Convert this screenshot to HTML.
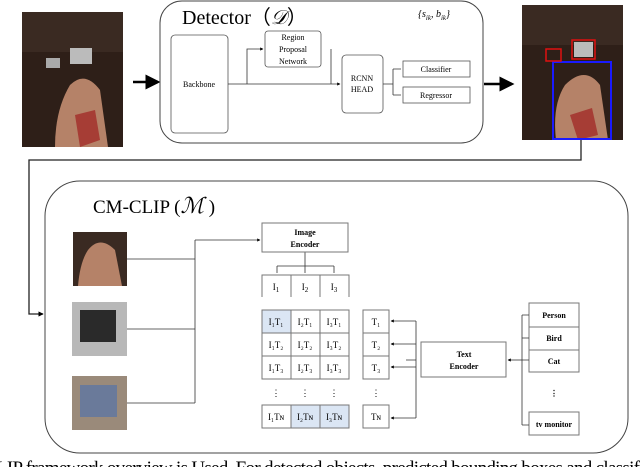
<!DOCTYPE html>
<html><head><style>body{margin:0;background:#fff;overflow:hidden}svg{display:block}</style></head><body>
<svg width="640" height="467" viewBox="0 0 640 467" xmlns="http://www.w3.org/2000/svg" font-family="Liberation Serif, serif">
<defs><marker id="a" markerWidth="6" markerHeight="6" refX="5" refY="3" orient="auto"><path d="M0,0 L6,3 L0,6z" fill="#000"/></marker>
<marker id="b" markerWidth="4" markerHeight="4" refX="3.5" refY="2" orient="auto"><path d="M0,0 L4,2 L0,4z" fill="#000"/></marker></defs>
<!-- left photo -->
<rect x="22" y="12" width="101" height="135" fill="#2e1f18"/>
<rect x="22" y="12" width="101" height="40" fill="#3a2a22"/>
<rect x="70" y="48" width="22" height="16" fill="#bbb"/>
<rect x="46" y="58" width="14" height="10" fill="#aaa"/>
<path d="M70 85 Q85 70 100 90 L108 147 L55 147 Q55 110 70 85z" fill="#b58268"/>
<path d="M75 115 L95 110 L100 140 L80 147z" fill="#a02020" opacity="0.7"/>
<!-- detector -->
<line x1="133" y1="82" x2="158" y2="82" stroke="#000" stroke-width="2.5" marker-end="url(#a)"/>
<rect x="160" y="1" width="323" height="142" rx="22" fill="none" stroke="#444"/>
<text x="182" y="24" font-size="20">Detector（<tspan font-style="italic">𝒟</tspan>）</text>
<text x="418" y="17" font-size="10" font-style="italic">{s<tspan font-size="7" dy="3">ik</tspan><tspan dy="-3">, b</tspan><tspan font-size="7" dy="3">ik</tspan><tspan dy="-3">}</tspan></text>
<g fill="#fff" stroke="#555" stroke-width="0.8">
<rect x="171" y="35" width="57" height="98" rx="4"/>
<rect x="265" y="31" width="56" height="36" rx="3"/>
<rect x="342" y="55" width="41" height="58" rx="4"/>
<rect x="403" y="61" width="67" height="16"/>
<rect x="403" y="87" width="67" height="16"/></g>
<g font-size="8" text-anchor="middle">
<text x="199" y="87">Backbone</text>
<text x="293" y="40">Region</text><text x="293" y="52">Proposal</text><text x="293" y="64">Network</text>
<text x="362" y="81">RCNN</text><text x="362" y="92">HEAD</text>
<text x="436" y="72">Classifier</text><text x="436" y="98">Regressor</text></g>
<g stroke="#333" stroke-width="0.8" fill="none">
<path d="M228 84 H340" marker-end="url(#b)"/><path d="M247 84 V49 H263" marker-end="url(#b)"/>
<path d="M331 49 V84"/><path d="M383 84 H393 M393 69 V95 M393 69 H401 M393 95 H401"/></g>
<line x1="484" y1="84" x2="512" y2="84" stroke="#000" stroke-width="2.5" marker-end="url(#a)"/>
<!-- right photo -->
<rect x="522" y="5" width="101" height="135" fill="#2e1f18"/>
<rect x="522" y="5" width="101" height="40" fill="#3a2a22"/>
<rect x="574" y="42" width="19" height="15" fill="#bbb"/>
<path d="M565 85 Q585 65 600 85 L608 140 L556 140 Q552 105 565 85z" fill="#b58268"/>
<path d="M570 115 L592 108 L598 135 L578 140z" fill="#a02020" opacity="0.7"/>
<rect x="553" y="62" width="58" height="77" fill="none" stroke="#1a1aff" stroke-width="2"/>
<rect x="546" y="49" width="15" height="12" fill="none" stroke="#e01010" stroke-width="1.5"/>
<rect x="572" y="40" width="23" height="19" fill="none" stroke="#e01010" stroke-width="1.5"/>
<path d="M581 140 V160 H29 V314 H43" fill="none" stroke="#222" stroke-width="1.3" marker-end="url(#b)"/>
<!-- CM-CLIP -->
<rect x="45" y="181" width="583" height="272" rx="35" fill="none" stroke="#444"/>
<text x="93" y="213" font-size="19">CM-CLIP (<tspan font-style="italic" font-size="22">ℳ</tspan> )</text>
<rect x="73" y="232" width="54" height="54" fill="#3a2a22"/><path d="M88 250 Q100 235 115 250 L122 286 L78 286 Q80 262 88 250z" fill="#b58268"/>
<rect x="72" y="302" width="55" height="54" fill="#b8b8b8"/><rect x="80" y="310" width="36" height="32" fill="#2a2a2a"/>
<rect x="72" y="376" width="55" height="54" fill="#9a8a7a"/><rect x="80" y="385" width="37" height="32" fill="#6a7a9a"/>
<g stroke="#333" stroke-width="0.8" fill="none">
<path d="M127 259 H195 M127 329 H195 M127 403 H195 M195 240 V403" />
<path d="M305 252 V266 M277 266 H334 M277 266 V273 M305 266 V273 M334 266 V273"/></g>
<path d="M195 240 H260" stroke="#333" stroke-width="0.8" marker-end="url(#b)"/>
<rect x="262" y="223" width="86" height="29" fill="#fff" stroke="#777"/>
<g font-size="8" font-weight="bold" text-anchor="middle"><text x="305" y="235">Image</text><text x="305" y="247">Encoder</text>
<text x="464" y="357">Text</text><text x="464" y="369">Encoder</text>
<text x="554" y="318">Person</text><text x="554" y="341">Bird</text><text x="554" y="364">Cat</text><text x="554" y="396">⋮</text><text x="554" y="427">tv monitor</text></g>
<path d="M262 297 V275 H349 V297 M291 275 V297 M320 275 V297" fill="none" stroke="#777"/>
<g font-size="9" text-anchor="middle"><text x="276" y="290">I<tspan font-size="7" dy="2">1</tspan></text><text x="305" y="290">I<tspan font-size="7" dy="2">2</tspan></text><text x="334" y="290">I<tspan font-size="7" dy="2">3</tspan></text></g>
<rect x="262" y="310" width="29" height="23" fill="#dbe6f4"/><rect x="291" y="405" width="58" height="23" fill="#dbe6f4"/>
<g fill="none" stroke="#777"><rect x="262" y="310" width="87" height="69"/><path d="M262 333 H349 M262 356 H349 M291 310 V379 M320 310 V379"/>
<rect x="262" y="405" width="87" height="23"/><path d="M291 405 V428 M320 405 V428"/>
<rect x="363" y="310" width="26" height="69"/><path d="M363 333 H389 M363 356 H389"/><rect x="363" y="405" width="26" height="23"/>
<rect x="421" y="342" width="85" height="35"/>
<rect x="529" y="303" width="50" height="69"/><path d="M529 327 H579 M529 350 H579"/><rect x="529" y="412" width="50" height="23"/></g>
<g font-size="9" text-anchor="middle">
<text x="276" y="325">I₁T₁</text><text x="305" y="325">I₂T₁</text><text x="334" y="325">I₃T₁</text>
<text x="276" y="348">I₁T₂</text><text x="305" y="348">I₂T₂</text><text x="334" y="348">I₃T₂</text>
<text x="276" y="371">I₁T₃</text><text x="305" y="371">I₂T₃</text><text x="334" y="371">I₃T₃</text>
<text x="276" y="396">⋮</text><text x="305" y="396">⋮</text><text x="334" y="396">⋮</text><text x="376" y="396">⋮</text>
<text x="276" y="420">I₁Tɴ</text><text x="305" y="420">I₂Tɴ</text><text x="334" y="420">I₃Tɴ</text>
<text x="376" y="325">T₁</text><text x="376" y="348">T₂</text><text x="376" y="371">T₃</text><text x="376" y="420">Tɴ</text></g>
<g stroke="#333" stroke-width="0.8" fill="none">
<path d="M416 360 H406 M416 321 V418"/>
<path d="M416 321 H391" marker-end="url(#b)"/><path d="M416 344 H391" marker-end="url(#b)"/><path d="M416 367 H391" marker-end="url(#b)"/><path d="M416 418 H391" marker-end="url(#b)"/>
<path d="M522 360 H508" marker-end="url(#b)"/>
<path d="M522 315 V425 M522 315 H529 M522 338 H529 M522 360 H529 M522 425 H529"/></g>
<text x="-4" y="474" font-size="19" textLength="644" lengthAdjust="spacing">LIP framework overview is Used. For detected objects, predicted bounding boxes and classif</text>
</svg>
</body></html>
